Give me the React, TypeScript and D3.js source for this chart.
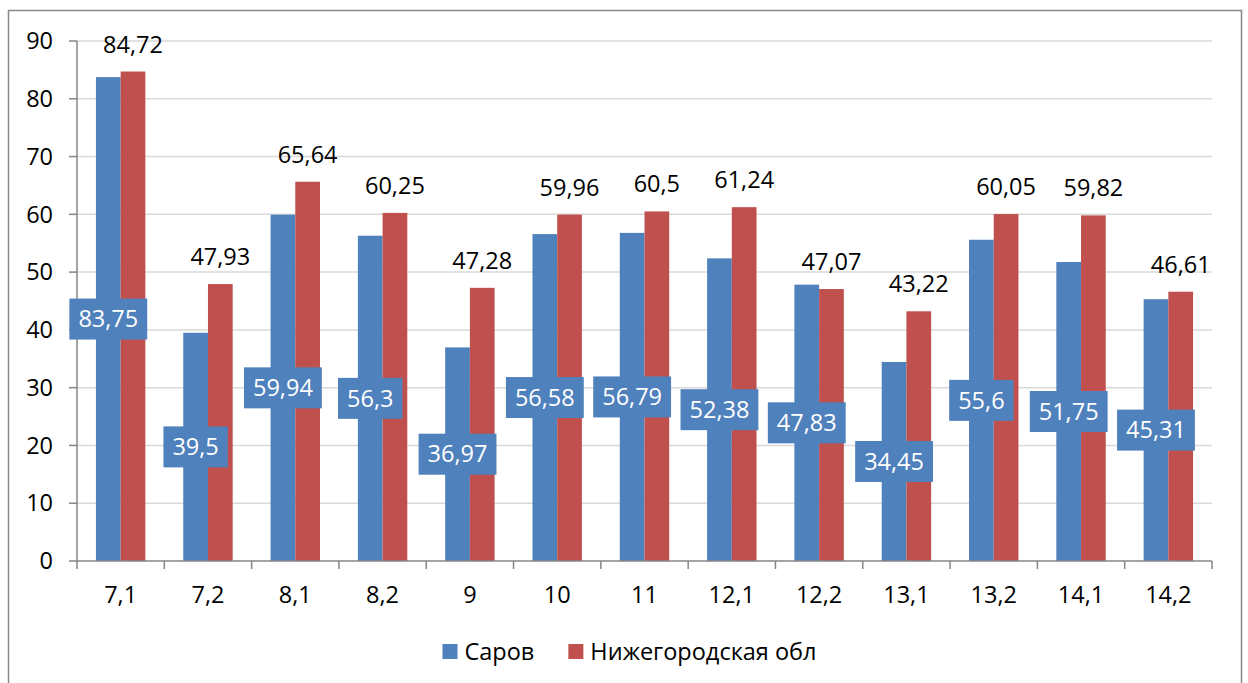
import React, { useEffect, useRef } from "react";
import * as d3 from "d3";

const categories = ["7,1", "7,2", "8,1", "8,2", "9", "10", "11", "12,1", "12,2", "13,1", "13,2", "14,1", "14,2"];
const sarov = [83.75, 39.5, 59.94, 56.3, 36.97, 56.58, 56.79, 52.38, 47.83, 34.45, 55.6, 51.75, 45.31];
const region = [84.72, 47.93, 65.64, 60.25, 47.28, 59.96, 60.5, 61.24, 47.07, 43.22, 60.05, 59.82, 46.61];
const seriesNames = ["Саров", "Нижегородская обл"];
const yTicks = [0, 10, 20, 30, 40, 50, 60, 70, 80, 90];

const BLUE = "#4F81BD";
const RED = "#C0504D";
const FONT = "'Open Sans', sans-serif";
const FS = 23.5;

const fmt = (v: number) => String(v).replace(".", ",");

export default function App() {
  const ref = useRef<SVGSVGElement>(null);

  useEffect(() => {
    const svg = d3.select(ref.current);
    svg.selectAll("*").remove();

    const left = 77, right = 1212, top = 41, bottom = 561;

    // outer chart frame
    svg.append("rect")
      .attr("x", 8.5).attr("y", 10.5)
      .attr("width", 1233).attr("height", 690)
      .attr("fill", "white").attr("stroke", "#878787").attr("stroke-width", 1.5);

    const x = d3.scaleBand().domain(categories).range([left, right]).padding(0);
    const y = d3.scaleLinear().domain([0, 90]).range([bottom, top]);
    const bw = x.bandwidth() * 0.283;

    const g = svg.append("g").style("font-family", FONT);

    // gridlines
    g.selectAll(".grid").data(yTicks.filter(t => t > 0)).join("line")
      .attr("x1", left).attr("x2", right)
      .attr("y1", d => y(d)).attr("y2", d => y(d))
      .attr("stroke", "#D9D9D9").attr("stroke-width", 1.5);

    // y axis
    g.append("line").attr("x1", left).attr("x2", left).attr("y1", top).attr("y2", bottom)
      .attr("stroke", "#868686").attr("stroke-width", 1.5);
    g.selectAll(".ytick").data(yTicks).join("line")
      .attr("x1", left - 8).attr("x2", left)
      .attr("y1", d => y(d)).attr("y2", d => y(d))
      .attr("stroke", "#868686").attr("stroke-width", 1.5);
    g.selectAll(".ylab").data(yTicks).join("text")
      .attr("x", 53).attr("y", d => y(d))
      .attr("dy", "0.35em")
      .attr("text-anchor", "end")
      .attr("font-size", FS).attr("fill", "#000")
      .text(d => d);

    // bars
    g.selectAll(".barA").data(sarov).join("rect")
      .attr("x", (d, i) => x(categories[i])! + x.bandwidth() / 2 - bw)
      .attr("y", d => y(d))
      .attr("width", bw).attr("height", d => y(0) - y(d))
      .attr("fill", BLUE);
    g.selectAll(".barB").data(region).join("rect")
      .attr("x", (d, i) => x(categories[i])! + x.bandwidth() / 2)
      .attr("y", d => y(d))
      .attr("width", bw).attr("height", d => y(0) - y(d))
      .attr("fill", RED);

    // x axis
    g.append("line").attr("x1", left).attr("x2", right).attr("y1", bottom).attr("y2", bottom)
      .attr("stroke", "#868686").attr("stroke-width", 1.5);
    const bounds = categories.map(c => x(c)!).concat([right]);
    g.selectAll(".xtick").data(bounds).join("line")
      .attr("x1", d => d).attr("x2", d => d)
      .attr("y1", bottom).attr("y2", bottom + 8)
      .attr("stroke", "#868686").attr("stroke-width", 1.5);
    g.selectAll(".xlab").data(categories).join("text")
      .attr("x", d => x(d)! + x.bandwidth() / 2)
      .attr("y", 603)
      .attr("text-anchor", "middle")
      .attr("font-size", FS).attr("fill", "#000")
      .text(d => d);

    // red labels above bars
    g.selectAll(".labB").data(region).join("text")
      .attr("x", (d, i) => x(categories[i])! + x.bandwidth() / 2 + bw / 2)
      .attr("y", d => y(d) - 19)
      .attr("text-anchor", "middle")
      .attr("font-size", FS).attr("fill", "#000")
      .text(d => fmt(d));

    // blue labels in boxes at bar middle
    sarov.forEach((v, i) => {
      const cx = x(categories[i])! + x.bandwidth() / 2 - bw / 2;
      const cy = (y(v) + y(0)) / 2;
      const box = g.append("rect").attr("fill", BLUE);
      const t = g.append("text")
        .attr("x", cx).attr("y", cy).attr("dy", "0.35em")
        .attr("text-anchor", "middle")
        .attr("font-size", FS).attr("fill", "#fff")
        .text(fmt(v));
      const w = (t.node() as SVGTextElement).getComputedTextLength() + 18;
      box.attr("x", cx - w / 2).attr("y", cy - 20.5).attr("width", w).attr("height", 41);
    });

    // legend
    const lg = g.append("g");
    const colors = [BLUE, RED];
    let cur = 0;
    seriesNames.forEach((name, i) => {
      lg.append("rect").attr("x", cur).attr("y", -7.5).attr("width", 15).attr("height", 15).attr("fill", colors[i]);
      const t = lg.append("text").attr("x", cur + 22).attr("y", 0).attr("dy", "0.35em")
        .attr("font-size", FS).attr("fill", "#000").text(name);
      const tw = (t.node() as SVGTextElement).getComputedTextLength();
      cur += 22 + tw + (i === 0 ? 34 : 0);
    });
    lg.attr("transform", `translate(${629.5 - cur / 2},651.5)`);
  }, []);

  return (
    <svg ref={ref} width={1248} height={683}
      style={{ position: "absolute", left: 0, top: 0, background: "white" }} />
  );
}
